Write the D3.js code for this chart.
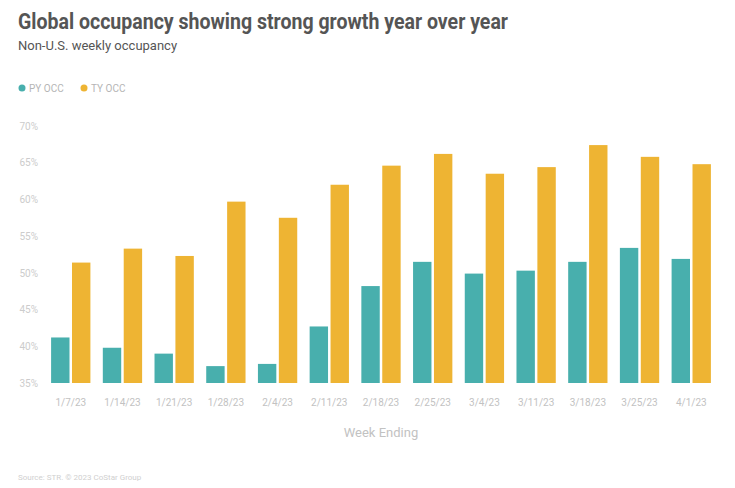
<!DOCTYPE html>
<html>
<head>
<meta charset="utf-8">
<script src="https://cdn.jsdelivr.net/npm/d3@7"></script>
<style>
  body { margin: 0; background: #fff; }
  text { font-family: Roboto, "Noto Sans", sans-serif; }
</style>
</head>
<body>
<div class="parent"></div>
<script>
const weeks = ["1/7/23", "1/14/23", "1/21/23", "1/28/23", "2/4/23", "2/11/23", "2/18/23",
  "2/25/23", "3/4/23", "3/11/23", "3/18/23", "3/25/23", "4/1/23"];
const pyOcc = [41.2, 39.8, 39.0, 37.3, 37.6, 42.7, 48.2, 51.5, 49.9, 50.3, 51.5, 53.4, 51.9];
const tyOcc = [51.4, 53.3, 52.3, 59.7, 57.5, 62.0, 64.6, 66.2, 63.5, 64.4, 67.4, 65.8, 64.8];
const yTicks = [35, 40, 45, 50, 55, 60, 65, 70];
const seriesNames = ["PY OCC", "TY OCC"];

const width = 735, height = 488;
const margin = { top: 126, right: 21, bottom: 105, left: 48 };
const innerW = width - margin.left - margin.right;
const innerH = height - margin.top - margin.bottom;

const color = d3.scaleOrdinal().domain(seriesNames).range(["#48afad", "#eeb433"]);

const svg = d3.select(".parent").append("svg")
  .attr("width", width)
  .attr("height", height);

// titles
svg.append("text")
  .attr("x", 18).attr("y", 29)
  .attr("textLength", 490).attr("lengthAdjust", "spacingAndGlyphs")
  .style("font-size", "22px").style("font-weight", 700).attr("fill", "#555")
  .text("Global occupancy showing strong growth year over year");

svg.append("text")
  .attr("x", 18).attr("y", 50)
  .style("font-size", "13px").attr("fill", "#555")
  .text("Non-U.S. weekly occupancy");

// legend
const legend = svg.append("g").attr("transform", "translate(22, 88)");
seriesNames.forEach((name, i) => {
  const gx = i * 62;
  legend.append("circle").attr("cx", gx).attr("cy", 0).attr("r", 3.5).attr("fill", color(name));
  legend.append("text").attr("x", gx + 7).attr("y", 3.5)
    .style("font-size", "10px").attr("fill", "#b5b5b5").text(name);
});

const g = svg.append("g").attr("transform", `translate(${margin.left},${margin.top})`);

const x0 = d3.scaleBand().domain(weeks).range([0, innerW]).paddingInner(0.24).paddingOuter(0.06);
const x1 = d3.scaleBand().domain(seriesNames).range([0, x0.bandwidth()]).paddingInner(0.12);
const y = d3.scaleLinear().domain([35, 70]).range([innerH, 0]);

const yAxis = g.append("g")
  .call(d3.axisLeft(y).tickValues(yTicks).tickFormat(d => d + "%").tickSize(0).tickPadding(10));
yAxis.select(".domain").remove();
yAxis.selectAll("text").style("font-size", "10px").attr("fill", "#ccc").style("font-family", "Roboto, sans-serif");

const groups = g.selectAll(".grp")
  .data(weeks)
  .join("g")
  .attr("class", "grp")
  .attr("transform", d => `translate(${x0(d)},0)`);

groups.selectAll("rect")
  .data((d, i) => [{ key: "PY OCC", v: pyOcc[i] }, { key: "TY OCC", v: tyOcc[i] }])
  .join("rect")
  .attr("x", d => x1(d.key))
  .attr("y", d => y(d.v))
  .attr("width", x1.bandwidth())
  .attr("height", d => innerH - y(d.v))
  .attr("fill", d => color(d.key));

const xAxis = g.append("g")
  .attr("transform", `translate(0,${innerH})`)
  .call(d3.axisBottom(x0).tickSize(0).tickPadding(16));
xAxis.select(".domain").remove();
xAxis.selectAll("text").style("font-size", "10px").attr("fill", "#c2c2c2").style("font-family", "Roboto, sans-serif");

svg.append("text")
  .attr("x", margin.left + innerW / 2).attr("y", 437)
  .attr("text-anchor", "middle")
  .style("font-size", "13px").attr("fill", "#c2c2c2")
  .text("Week Ending");

svg.append("text")
  .attr("x", 18).attr("y", 480)
  .style("font-size", "8px").attr("fill", "#d0d0d0")
  .text("Source: STR. © 2023 CoStar Group");
</script>
</body>
</html>
